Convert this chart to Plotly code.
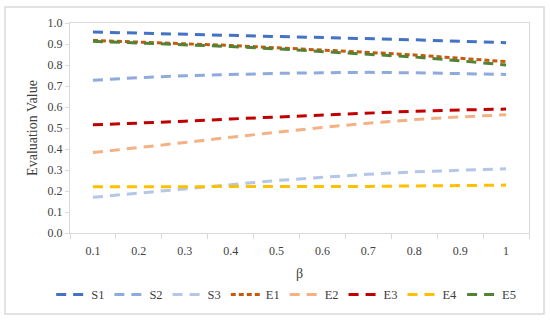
import plotly.graph_objects as go

beta = ["0.1", "0.2", "0.3", "0.4", "0.5", "0.6", "0.7", "0.8", "0.9", "1"]

S1 = [0.957, 0.952, 0.947, 0.942, 0.937, 0.932, 0.926, 0.920, 0.913, 0.906]
S2 = [0.727, 0.740, 0.749, 0.755, 0.760, 0.763, 0.765, 0.763, 0.760, 0.755]
S3 = [0.170, 0.190, 0.210, 0.230, 0.250, 0.265, 0.280, 0.291, 0.300, 0.306]
E1 = [0.917, 0.910, 0.901, 0.893, 0.882, 0.872, 0.860, 0.848, 0.833, 0.816]
E2 = [0.383, 0.406, 0.431, 0.456, 0.480, 0.503, 0.523, 0.540, 0.553, 0.563]
E3 = [0.515, 0.522, 0.532, 0.543, 0.553, 0.563, 0.572, 0.580, 0.586, 0.590]
E4 = [0.220, 0.220, 0.219, 0.219, 0.220, 0.221, 0.222, 0.224, 0.226, 0.228]
E5 = [0.913, 0.905, 0.897, 0.888, 0.877, 0.865, 0.852, 0.838, 0.820, 0.800]

series = [
    ("S1", S1, "#4472C4", "10px,7px"),
    ("S2", S2, "#8FAADC", "10px,7px"),
    ("S3", S3, "#B4C7E7", "10px,7px"),
    ("E1", E1, "#C55A11", "5px,3px"),
    ("E2", E2, "#F4B183", "10px,7px"),
    ("E3", E3, "#C00000", "10px,7px"),
    ("E4", E4, "#FFC000", "10px,7px"),
    ("E5", E5, "#548235", "10px,7px"),
]

fig = go.Figure()
for name, vals, color, dash in series:
    fig.add_trace(go.Scatter(
        x=beta, y=vals, name=name, mode="lines",
        line=dict(color=color, width=3, dash=dash),
    ))

font = "Liberation Serif"
grid = "#D9D9D9"

fig.update_layout(
    width=550, height=321,
    margin=dict(l=70, r=21, t=23, b=88, autoexpand=False),
    paper_bgcolor="white", plot_bgcolor="white",
    font=dict(family=font, size=12, color="#404040"),
    showlegend=True,
    legend=dict(
        orientation="h", x=-0.041, xanchor="left",
        y=-0.295, yanchor="middle",
        font=dict(family=font, size=12.5, color="#404040"),
        tracegroupgap=0,
    ),
    xaxis=dict(
        type="category", range=[-0.5, 9.5], tickson="boundaries", ticks="outside", ticklen=5,
        tickcolor=grid, showline=True, linecolor=grid, linewidth=1, mirror=True,
        showgrid=False, ticklabelstandoff=7,
        title=dict(text="β", font=dict(family=font, size=14, color="#404040"), standoff=10),
    ),
    yaxis=dict(
        range=[0, 1], dtick=0.1, tickformat=".1f", ticks="outside", ticklen=4,
        tickcolor=grid, showline=True, linecolor=grid, linewidth=1, mirror=True,
        showgrid=False, zeroline=False,
        title=dict(text="Evaluation Value", font=dict(family=font, size=14, color="#404040"), standoff=6),
    ),
    shapes=[dict(
        type="rect", xref="paper", yref="paper",
        x0=-0.1416, x1=1.0327, y0=-0.3857, y1=1.0762,
        line=dict(color=grid, width=1.5), fillcolor="rgba(0,0,0,0)", layer="below",
    )],
)

fig.write_html("out.html", config={"displayModeBar": False},
               post_script="document.body.style.margin='0';")
